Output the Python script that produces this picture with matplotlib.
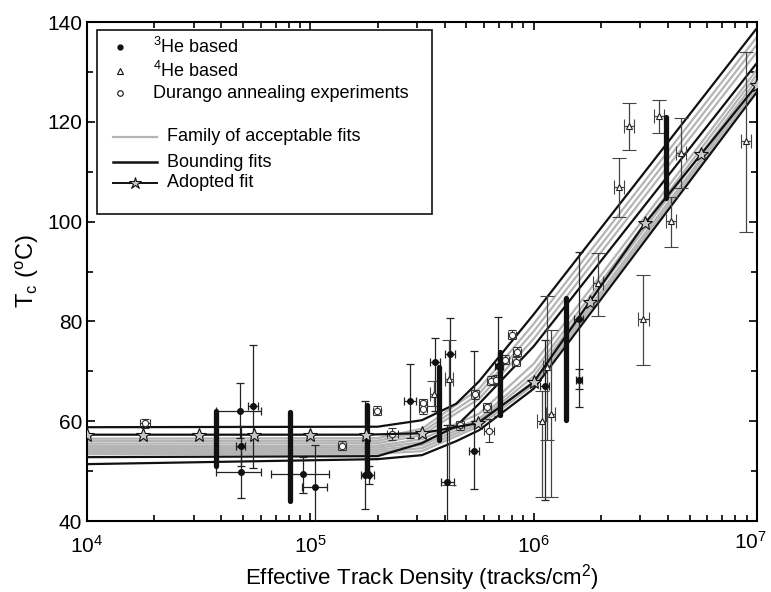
import numpy as np
import matplotlib
matplotlib.use("Agg")
import matplotlib.pyplot as plt
from matplotlib.patches import Rectangle
from matplotlib.transforms import ScaledTranslation, blended_transform_factory

plt.rcParams['font.family'] = ['Liberation Sans', 'DejaVu Sans']
plt.rcParams['mathtext.fontset'] = 'custom'
plt.rcParams['mathtext.rm'] = 'Liberation Sans'
plt.rcParams['mathtext.it'] = 'Liberation Sans'
plt.rcParams['mathtext.default'] = 'regular'

# ---- datos ----
# ajuste adoptado (estrellas)
adopt_x = [1.0e4, 1.78e4, 3.16e4, 5.62e4, 1.0e5, 1.78e5, 3.16e5, 5.62e5,
           1.0e6, 1.78e6, 3.16e6, 5.62e6, 1.0e7]
adopt_t = [57.3, 57.3, 57.3, 57.3, 57.3, 57.3, 57.6, 59.6,
           67.8, 83.9, 99.7, 113.5, 127.4]

# ajustes limite (negro)
bound_x = [1.0e4, 2.0e5, 3.16e5, 4.5e5, 5.7e5, 1.0e6, 1.0e7]
bound_hi = [58.8, 58.9, 60.2, 63.5, 68.0, 81.4, 138.8]
bound_mid = [52.8, 53.0, 55.6, 59.0, 63.5, 75.0, 131.8]
bound_lo = [51.4, 52.4, 53.2, 56.0, 58.2, 66.5, 126.0]

# familia de ajustes aceptables (gris)
fam_x = [1.0e4, 2.0e5, 3.16e5, 5.7e5, 1.0e6, 1.0e7]
fam_t = [
    [56.5, 56.6, 58.5, 66.5, 79.5, 137.0],
    [56.0, 56.1, 57.8, 65.5, 78.0, 135.5],
    [55.5, 55.6, 57.2, 64.5, 76.5, 134.0],
    [55.0, 55.1, 56.4, 61.5, 71.5, 130.5],
    [54.6, 54.7, 55.8, 60.5, 70.0, 129.5],
    [54.2, 54.3, 55.2, 60.0, 69.0, 128.5],
    [53.8, 53.9, 54.6, 59.5, 68.0, 127.5],
    [53.4, 53.5, 54.0, 59.0, 67.3, 126.8],
]

# barras gruesas verticales
bar_x = [3.80e4, 8.1e4, 1.8e5, 3.77e5, 7.1e5, 1.4e6, 3.9e6]
bar_lo = [51.0, 44.1, 49.2, 56.2, 61.2, 60.2, 104.7]
bar_hi = [62.1, 61.8, 63.2, 70.9, 73.9, 84.7, 121.0]

# 3He
he3_x = [4.82e4, 4.87e4, 4.87e4, 5.52e4, 9.31e4, 1.05e5, 1.76e5, 1.83e5, 2.79e5,
         3.60e5, 4.22e5, 4.10e5, 5.40e5, 6.93e5, 1.12e6, 1.59e6, 1.60e6]
he3_t = [62.1, 55.0, 49.9, 63.0, 49.4, 46.8, 49.2, 49.2, 64.0,
         71.9, 73.5, 47.9, 54.0, 71.0, 67.1, 80.4, 68.3]
he3_xlo = [3.80e4, 4.66e4, 3.80e4, 5.25e4, 6.68e4, 9.2e4, 1.68e5, 1.75e5, 2.62e5,
           3.42e5, 4.01e5, 3.83e5, 5.14e5, 6.7e5, 1.07e6, 1.52e6, 1.55e6]
he3_xhi = [6.04e4, 5.10e4, 6.04e4, 5.82e4, 1.21e5, 1.19e5, 1.85e5, 1.92e5, 2.97e5,
           3.79e5, 4.44e5, 4.40e5, 5.68e5, 7.3e5, 1.17e6, 1.66e6, 1.65e6]
he3_tlo = [56.6, 51.0, 44.6, 50.6, 45.6, 38.0, 42.4, 47.5, 56.6,
           62.0, 59.2, 38.0, 46.4, 61.0, 44.2, 62.9, 66.5]
he3_thi = [67.6, 59.0, 54.9, 75.3, 52.9, 55.2, 64.0, 51.0, 71.4,
           76.6, 80.7, 59.2, 74.1, 80.8, 76.3, 94.0, 70.5]

# 4He
he4_x = [3.58e5, 4.18e5, 1.15e6, 1.09e6, 1.19e6, 1.95e6, 3.10e6, 2.42e6, 2.67e6,
         3.64e6, 4.12e6, 4.56e6, 8.9e6]
he4_t = [65.5, 68.4, 70.9, 60.1, 61.4, 87.6, 80.4, 106.9, 119.1,
         121.2, 100.1, 113.7, 116.2]
he4_dx = [0.018, 0.018, 0.018, 0.022, 0.022, 0.022, 0.026, 0.022, 0.022,
          0.022, 0.022, 0.022, 0.022]
he4_tlo = [63.0, 47.2, 56.2, 44.8, 44.8, 81.1, 71.3, 100.9, 114.3,
           117.8, 95.0, 106.7, 98.0]
he4_thi = [68.0, 76.3, 85.0, 66.0, 78.3, 93.8, 89.3, 112.7, 123.7,
           124.4, 105.0, 120.7, 134.0]

# experimentos de recocido de Durango
dur_x = [1.815e4, 1.383e5, 1.996e5, 2.33e5, 3.21e5, 3.21e5, 4.66e5, 5.49e5,
         6.19e5, 6.30e5, 6.47e5, 6.75e5, 7.48e5, 8.0e5, 8.34e5, 8.42e5]
dur_t = [59.6, 55.1, 62.1, 57.4, 63.6, 62.4, 59.2, 65.4,
         62.8, 58.1, 68.1, 68.3, 72.3, 77.3, 71.9, 73.9]
dur_dx = [0.022, 0.018, 0.018, 0.025, 0.018, 0.018, 0.018, 0.018,
          0.018, 0.022, 0.018, 0.018, 0.018, 0.018, 0.018, 0.018]
dur_dt = [0.9, 0.9, 0.9, 1.2, 0.9, 0.9, 0.9, 0.9,
          0.9, 2.3, 0.9, 0.9, 0.9, 0.9, 0.9, 0.9]

xtick_vals = [1e4, 1e5, 1e6, 1e7]
xtick_labs = ['$10^4$', '$10^5$', '$10^6$', '$10^7$']

fig = plt.figure(figsize=(7.71, 5.92), dpi=100)
ax = fig.add_axes([0.1128, 0.1199, 0.8690, 0.8429])

# familia gris
for t in fam_t:
    ax.plot(fam_x, t, color='#b4b4b4', lw=1.6, zorder=2)

# ajustes limite
for t in [bound_hi, bound_mid, bound_lo]:
    ax.plot(bound_x, t, color='#111111', lw=1.6, zorder=3)

# puntos con barras de error
def xerr_from(x, lo, hi):
    x = np.array(x)
    return np.vstack([x - np.array(lo), np.array(hi) - x])

def yerr_from(t, lo, hi):
    t = np.array(t)
    return np.vstack([t - np.array(lo), np.array(hi) - t])

ax.errorbar(he3_x, he3_t, xerr=xerr_from(he3_x, he3_xlo, he3_xhi),
            yerr=yerr_from(he3_t, he3_tlo, he3_thi), fmt='o', ms=4,
            mfc='#111111', mec='#111111', ecolor='#222222', elinewidth=0.9,
            capsize=3, capthick=0.9, zorder=5)

he4_xa = np.array(he4_x)
he4_dxa = np.array(he4_dx)
he4_xerr = np.vstack([he4_xa - he4_xa / 10**he4_dxa, he4_xa * 10**he4_dxa - he4_xa])
ax.errorbar(he4_x, he4_t, xerr=he4_xerr, yerr=yerr_from(he4_t, he4_tlo, he4_thi),
            fmt='^', ms=4.5, mfc='white', mec='#222222', mew=0.8,
            ecolor='#444444', elinewidth=0.9, capsize=5, capthick=0.9, zorder=5)

dur_xa = np.array(dur_x)
dur_dxa = np.array(dur_dx)
dur_xerr = np.vstack([dur_xa - dur_xa / 10**dur_dxa, dur_xa * 10**dur_dxa - dur_xa])
ax.errorbar(dur_x, dur_t, xerr=dur_xerr, yerr=dur_dt, fmt='o', ms=4.5,
            mfc='white', mec='#333333', mew=0.8, ecolor='#333333',
            elinewidth=0.8, capsize=3, capthick=0.8, zorder=5)

# barras gruesas
ax.vlines(bar_x, bar_lo, bar_hi, color='#111111', lw=3.8, zorder=6,
          capstyle='round')

# ajuste adoptado
ax.plot(adopt_x, adopt_t, color='#111111', lw=1.6, marker='*', ms=10.5,
        mfc='#c8c8c8', mec='#111111', mew=0.8, zorder=7)

ax.set_xscale('log')
ax.set_xlim(1e4, 1e7)
ax.set_ylim(40, 140)
ax.set_xticks(xtick_vals, labels=xtick_labs[:-1] + [''])
ax.set_yticks([40, 60, 80, 100, 120, 140])
ax.set_yticks([50, 70, 90, 110, 130], minor=True)
ax.tick_params(which='both', direction='in', top=True, right=True,
               labelsize=15, width=1.2)
ax.tick_params(which='major', length=6)
ax.tick_params(which='minor', length=4)
ax.tick_params(axis='x', pad=10)
for s in ax.spines.values():
    s.set_linewidth(1.5)

# ultima etiqueta del eje x, corrida hacia dentro para que no se corte
btr = blended_transform_factory(ax.transData, ax.transAxes)
ax.text(xtick_vals[-1], -0.02, xtick_labs[-1], fontsize=15, ha='right', va='top',
        transform=btr + ScaledTranslation(10 / 100, 0, fig.dpi_scale_trans))

ax.set_xlabel('Effective Track Density (tracks/cm$^2$)', fontsize=16)
ax.set_ylabel('T$_c$ ($^o$C)', fontsize=17)

# leyenda dibujada a mano
tr = ax.transAxes
ax.add_patch(Rectangle((0.0149, 0.6152), 0.50, 0.3688, transform=tr,
                       fill=True, facecolor='white', edgecolor='#111111',
                       lw=1.2, zorder=8))
ax.plot([0.049], [0.9505], 'o', ms=3.5, color='#111111', transform=tr, zorder=9)
ax.plot([0.049], [0.9024], '^', ms=4, mfc='white', mec='#111111', mew=0.8,
        transform=tr, zorder=9)
ax.plot([0.049], [0.8577], 'o', ms=4, mfc='white', mec='#111111', mew=0.8,
        transform=tr, zorder=9)
ax.plot([0.0388, 0.1045], [0.770, 0.770], color='#b4b4b4', lw=1.6,
        transform=tr, zorder=9)
ax.plot([0.0388, 0.1045], [0.7194, 0.7194], color='#111111', lw=1.8,
        transform=tr, zorder=9)
ax.plot([0.0388, 0.1045], [0.6774, 0.6774], color='#111111', lw=1.4,
        transform=tr, zorder=9)
ax.plot([0.0716], [0.6774], '*', ms=9, mfc='#c8c8c8', mec='#111111', mew=0.8,
        transform=tr, zorder=10)
ax.text(0.098, 0.9505, '$^3$He based', transform=tr, fontsize=13, va='center', zorder=9)
ax.text(0.098, 0.9024, '$^4$He based', transform=tr, fontsize=13, va='center', zorder=9)
ax.text(0.098, 0.8577, 'Durango annealing experiments', transform=tr, fontsize=13,
        va='center', zorder=9)
ax.text(0.119, 0.770, 'Family of acceptable fits', transform=tr, fontsize=13,
        va='center', zorder=9)
ax.text(0.119, 0.7194, 'Bounding fits', transform=tr, fontsize=13, va='center', zorder=9)
ax.text(0.119, 0.6774, 'Adopted fit', transform=tr, fontsize=13, va='center', zorder=9)

plt.savefig('out.png', dpi=100)
